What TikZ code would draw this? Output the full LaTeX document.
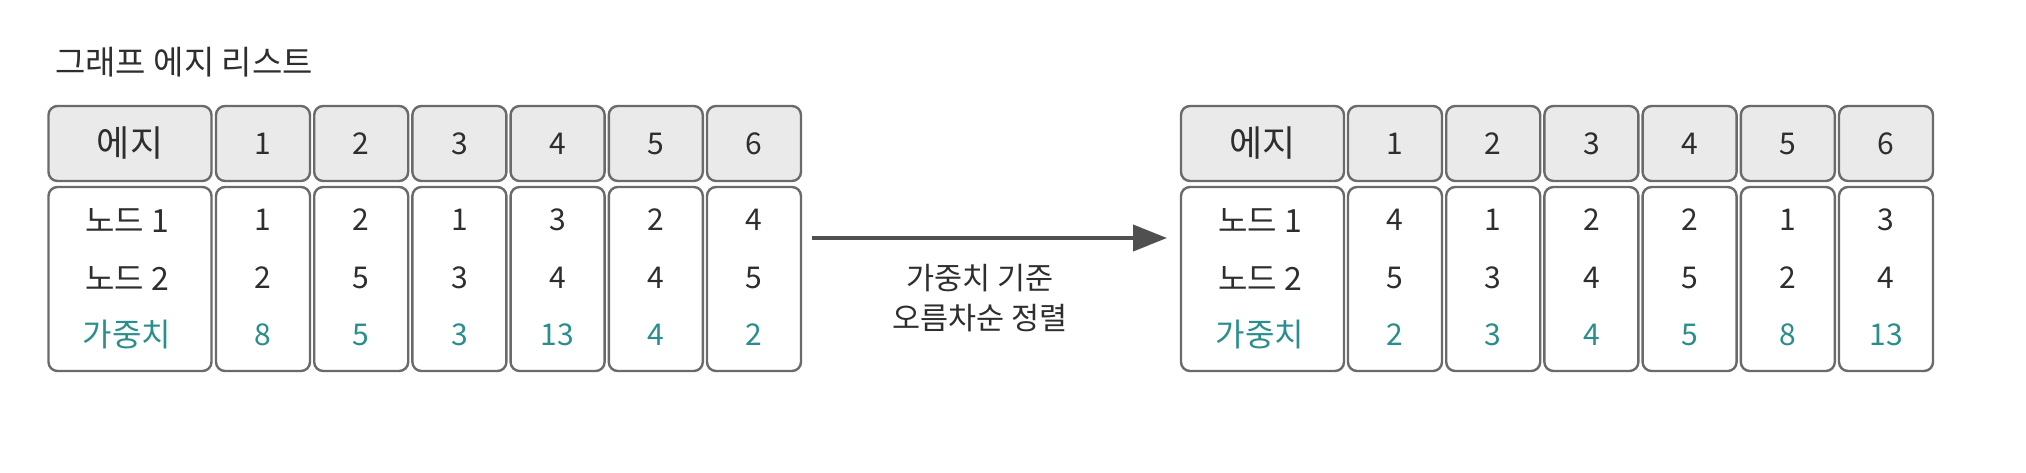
\documentclass[tikz,border=0pt]{standalone}
\usepackage{fontspec}
\setmainfont{Noto Sans CJK KR}
\usetikzlibrary{arrows.meta}
\definecolor{bordergray}{HTML}{6A6A6A}
\definecolor{headfill}{HTML}{EAEAEA}
\definecolor{tealtxt}{HTML}{2A8F8C}
\definecolor{txt}{HTML}{2E2E2E}
\definecolor{arrowgray}{HTML}{505050}
\begin{document}
\begin{tikzpicture}[x=1pt,y=-1pt,
  cell/.style={draw=bordergray, line width=2.4pt, rounded corners=9pt, inner sep=0pt},
  headcell/.style={cell, fill=headfill, minimum height=75pt},
  bodycell/.style={cell, fill=white, minimum height=184pt},
  labelcol/.style={minimum width=163pt},
  numcol/.style={minimum width=94pt},
  lbl/.style={font=\fontsize{30}{30}\selectfont, text=txt, inner sep=0pt},
  rowlbl/.style={lbl, font=\fontsize{32}{32}\selectfont},
  headlbl/.style={lbl, font=\fontsize{36}{36}\selectfont},
  wlbl/.style={lbl, text=tealtxt},
  wrowlbl/.style={rowlbl, text=tealtxt},
  titletext/.style={font=\fontsize{33}{33}\selectfont, text=txt, inner sep=0pt, anchor=west},
  arrowcap/.style={font=\fontsize{30.5}{30.5}\selectfont, text=txt, inner sep=0pt},
  conn/.style={draw=arrowgray, line width=4pt, -{Triangle[length=34pt,width=26pt]}}
]
\useasboundingbox[fill=white] (0,0) rectangle (2026,472);

\node[titletext] (ttl) at (55,62) {그래프 에지 리스트};

% ---------- left table ----------
\node[headcell, labelcol] (Lh0) at (130,143.5) {};
\node[bodycell, labelcol] (Lb0) at (130,279) {};
\node[headlbl] (Lh0t) at (Lh0.center) {에지};
\node[rowlbl] (Lr1) at (127,220) {노드 1};
\node[rowlbl] (Lr2) at (127,278) {노드 2};
\node[wrowlbl] (Lr3) at (127,335) {가중치};
\foreach \i/\a/\b/\w in {1/1/2/8, 2/2/5/5, 3/1/3/3, 4/3/4/13, 5/2/4/4, 6/4/5/2} {
  \pgfmathsetmacro{\cx}{216+47+98.2*(\i-1)}
  \node[headcell, numcol] (Lh\i) at (\cx,143.5) {};
  \node[lbl] (Lh\i t) at (Lh\i.center) {\i};
  \node[bodycell, numcol] (Lb\i) at (\cx,279) {};
  \node[lbl] (La\i) at (\cx,220) {\a};
  \node[lbl] (Lbb\i) at (\cx,278) {\b};
  \node[wlbl] (Lw\i) at (\cx,335) {\w};
}

% ---------- arrow ----------
\coordinate (arrS) at (812,238);
\coordinate (arrE) at (1167,238);
\draw[conn] (arrS) -- (arrE);
\node[arrowcap] (cap1) at (980,278) {가중치 기준};
\node[arrowcap] (cap2) at (980,318) {오름차순 정렬};

% ---------- right table ----------
\node[headcell, labelcol] (Rh0) at (1262.5,143.5) {};
\node[bodycell, labelcol] (Rb0) at (1262.5,279) {};
\node[headlbl] (Rh0t) at (Rh0.center) {에지};
\node[rowlbl] (Rr1) at (1260,220) {노드 1};
\node[rowlbl] (Rr2) at (1260,278) {노드 2};
\node[wrowlbl] (Rr3) at (1260,335) {가중치};
\foreach \i/\a/\b/\w in {1/4/5/2, 2/1/3/3, 3/2/4/4, 4/2/5/5, 5/1/2/8, 6/3/4/13} {
  \pgfmathsetmacro{\cx}{1348+47+98.2*(\i-1)}
  \node[headcell, numcol] (Rh\i) at (\cx,143.5) {};
  \node[lbl] (Rh\i t) at (Rh\i.center) {\i};
  \node[bodycell, numcol] (Rb\i) at (\cx,279) {};
  \node[lbl] (Ra\i) at (\cx,220) {\a};
  \node[lbl] (Rbb\i) at (\cx,278) {\b};
  \node[wlbl] (Rw\i) at (\cx,335) {\w};
}
\end{tikzpicture}
\end{document}
